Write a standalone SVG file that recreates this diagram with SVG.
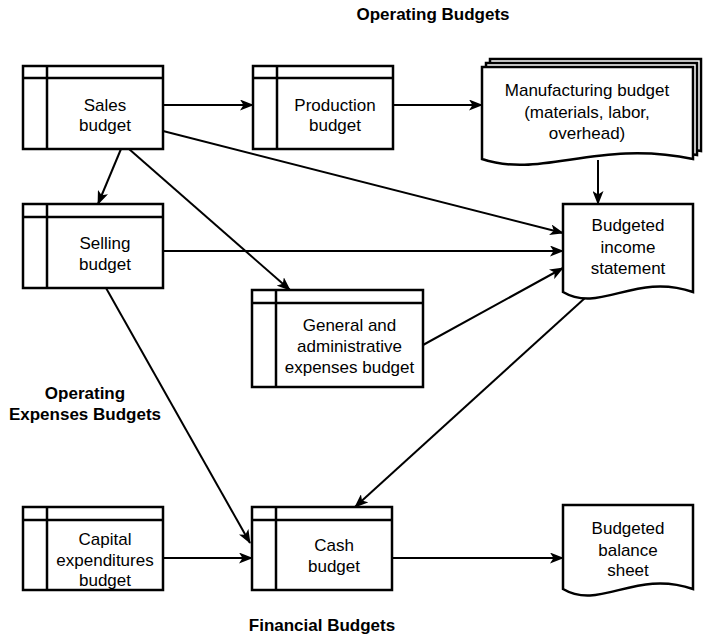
<svg xmlns="http://www.w3.org/2000/svg" width="703" height="638" viewBox="0 0 703 638">
<style>
.shape{fill:#fff;stroke:#000;stroke-width:2.5}
.div{stroke:#000;stroke-width:2.5;fill:none}
.t{font-family:"Liberation Sans",Arial,Helvetica,sans-serif;font-size:17px;text-anchor:middle;fill:#000}
.title{font-family:"Liberation Sans",Arial,Helvetica,sans-serif;font-size:17px;font-weight:bold;text-anchor:middle;fill:#000}
.conn{stroke:#000;stroke-width:2;fill:none;marker-end:url(#ah)}
</style>
<defs>
<marker id="ah" viewBox="0 0 14 11" refX="13" refY="5.5" markerWidth="14" markerHeight="11" markerUnits="userSpaceOnUse" orient="auto">
<path d="M0,0 L14,5.5 L0,11 L3.5,5.5 Z" fill="#000"/>
</marker>
</defs>
<rect width="703" height="638" fill="#fff"/>

<g id="title-operating"><text class="title" x="433" y="20">Operating Budgets</text></g>
<g id="title-opex"><text class="title" x="85" y="399">Operating</text><text class="title" x="85" y="420">Expenses Budgets</text></g>
<g id="title-financial"><text class="title" x="322" y="631">Financial Budgets</text></g>

<g id="connectors">
<path class="conn" d="M163,105 H253"/>
<path class="conn" d="M393,105 H482"/>
<path class="conn" d="M598,160 V204"/>
<path class="conn" d="M163,131 L563,233"/>
<path class="conn" d="M121,149 L98,204"/>
<path class="conn" d="M129,149 L290,290"/>
<path class="conn" d="M163,251 H563"/>
<path class="conn" d="M423,345 L563,268"/>
<path class="conn" d="M106,288 L250,543"/>
<path class="conn" d="M585,298 L355,507"/>
<path class="conn" d="M163,558 H252"/>
<path class="conn" d="M392,558 H563"/>
</g>

<g id="sales">
<rect class="shape" x="23" y="66" width="140" height="83"/>
<path class="div" d="M23,78 H163 M47,66 V149"/>
<text class="t" x="105" y="111">Sales</text><text class="t" x="105" y="131">budget</text>
</g>
<g id="production">
<rect class="shape" x="253" y="66" width="140" height="83"/>
<path class="div" d="M253,78 H393 M277,66 V149"/>
<text class="t" x="335" y="111">Production</text><text class="t" x="335" y="131">budget</text>
</g>
<g id="manufacturing">
<path class="shape" d="M490,59 H701 V151 C606,135 549,167 490,151 Z"/>
<path class="shape" d="M486,63 H697 V155 C602,139 545,171 486,155 Z"/>
<path class="shape" d="M482,67 H693 V159 C598,139 541,179 482,159 Z"/>
<text class="t" x="587" y="96">Manufacturing budget</text>
<text class="t" x="587" y="118">(materials, labor,</text>
<text class="t" x="587" y="139">overhead)</text>
</g>
<g id="selling">
<rect class="shape" x="23" y="204" width="140" height="84"/>
<path class="div" d="M23,217 H163 M47,204 V288"/>
<text class="t" x="105" y="249">Selling</text><text class="t" x="105" y="270">budget</text>
</g>
<g id="income">
<path class="shape" d="M563,204 H693 V292 C635,272 600,314 563,292 Z"/>
<text class="t" x="628" y="231">Budgeted</text><text class="t" x="628" y="253">income</text><text class="t" x="628" y="274">statement</text>
</g>
<g id="ga">
<rect class="shape" x="252" y="290" width="171" height="97"/>
<path class="div" d="M252,303 H423 M276,290 V387"/>
<text class="t" x="349.5" y="331">General and</text><text class="t" x="349.5" y="352">administrative</text><text class="t" x="349.5" y="373">expenses budget</text>
</g>
<g id="capital">
<rect class="shape" x="23" y="507" width="140" height="83"/>
<path class="div" d="M23,520 H163 M47,507 V590"/>
<text class="t" x="105" y="545">Capital</text><text class="t" x="105" y="566">expenditures</text><text class="t" x="105" y="586">budget</text>
</g>
<g id="cash">
<rect class="shape" x="252" y="507" width="140" height="83"/>
<path class="div" d="M252,520 H392 M276,507 V590"/>
<text class="t" x="334" y="551">Cash</text><text class="t" x="334" y="572">budget</text>
</g>
<g id="balance">
<path class="shape" d="M563,505 H693 V589 C635,569 600,611 563,589 Z"/>
<text class="t" x="628" y="534">Budgeted</text><text class="t" x="628" y="556">balance</text><text class="t" x="628" y="576">sheet</text>
</g>
</svg>
